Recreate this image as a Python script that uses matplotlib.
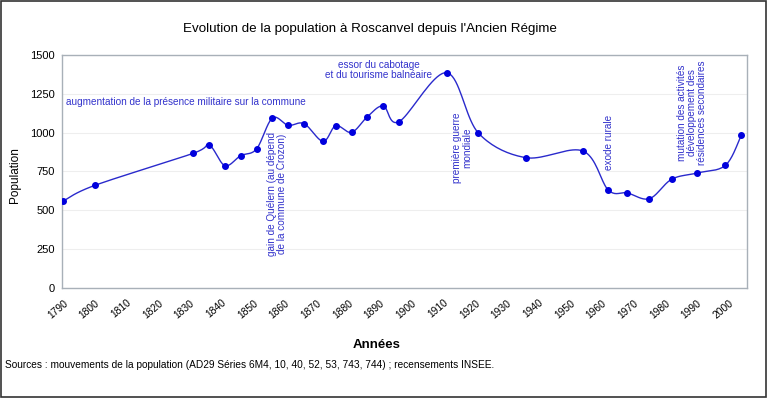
import numpy as np
import matplotlib
matplotlib.use('Agg')
import matplotlib.pyplot as plt

plt.rcParams['font.family'] = ['Liberation Sans', 'DejaVu Sans']

# données
annees = [1790, 1800, 1831, 1836, 1841, 1846, 1851, 1856, 1861, 1866, 1872, 1876,
          1881, 1886, 1891, 1896, 1911, 1921, 1936, 1954, 1962, 1968, 1975, 1982,
          1990, 1999, 2004]
population = [560, 661, 867, 921, 788, 852, 895, 1094, 1047, 1058, 944, 1045,
              1002, 1103, 1172, 1071, 1386, 998, 839, 882, 631, 612, 575, 700,
              740, 790, 985]
ticks_annees = list(range(1790, 2001, 10))
ticks_pop = [0, 250, 500, 750, 1000, 1250, 1500]

bleu_ligne = '#2A2ACC'
bleu_point = '#0000DD'
bleu_texte = '#3333CC'


def courbe_lissee(x, y, sx=3.169, sy=0.1553, n=20):
    """lissage type Excel (Catmull-Rom) calculé en pixels"""
    px = np.asarray(x, float) * sx
    py = np.asarray(y, float) * sy
    pts = np.column_stack([px, py])
    pts = np.vstack([pts[0], pts, pts[-1]])
    out = []
    for i in range(1, len(pts) - 2):
        p0, p1, p2, p3 = pts[i - 1], pts[i], pts[i + 1], pts[i + 2]
        c1 = p1 + (p2 - p0) / 6
        c2 = p2 - (p3 - p1) / 6
        t = np.linspace(0, 1, n)[:, None]
        seg = ((1 - t) ** 3 * p1 + 3 * (1 - t) ** 2 * t * c1
               + 3 * (1 - t) * t ** 2 * c2 + t ** 3 * p2)
        out.append(seg if i == 1 else seg[1:])
    out = np.vstack(out)
    return out[:, 0] / sx, out[:, 1] / sy


fig = plt.figure(figsize=(7.68, 3.98), dpi=100)
fig.patch.set_facecolor('white')
ax = fig.add_axes([0.0807, 0.2764, 0.8920, 0.5854])

xs, ys = courbe_lissee(annees, population)
ax.plot(xs, ys, color=bleu_ligne, linewidth=1.0, zorder=3)
ax.plot(annees, population, linestyle='none', marker='o', markersize=4,
        color=bleu_point, zorder=4)

ax.set_xlim(1789.6, 2005.8)
ax.set_ylim(0, 1500)
ax.set_xticks(ticks_annees)
ax.set_xticklabels([str(a) for a in ticks_annees], rotation=40, ha='right',
                   rotation_mode='anchor', fontsize=7.4)
ax.set_yticks(ticks_pop)
ax.set_yticklabels([str(v) for v in ticks_pop], fontsize=8)
ax.tick_params(axis='y', length=0, pad=5)
ax.tick_params(axis='x', length=0, pad=7)
ax.grid(axis='y', color='#EEEEEE', linewidth=0.8)
ax.set_axisbelow(True)
for s in ax.spines.values():
    s.set_color('#A8B0B8')
    s.set_linewidth(1.0)

fig.text(15 / 768, 0.56, 'Population', fontsize=8.5, rotation=90,
         ha='center', va='center')

# annotations
fs = 7.2
ax.text(1791, 1197, 'augmentation de la présence militaire sur la commune',
        color=bleu_texte, fontsize=fs, ha='left', va='center')
ax.text(1889.5, 1338, 'essor du cabotage\net du tourisme balnéaire',
        color=bleu_texte, fontsize=fs, ha='center', va='bottom',
        linespacing=1.0)
ax.text(1857.5, 605, 'gain de Quélern (au dépend\nde la commune de Crozon)',
        color=bleu_texte, fontsize=fs, ha='center', va='center', rotation=90,
        linespacing=1.0)
ax.text(1916, 900, 'première guerre\nmondiale',
        color=bleu_texte, fontsize=fs, ha='center', va='center', rotation=90,
        linespacing=1.0)
ax.text(1962.3, 937, 'exode rurale',
        color=bleu_texte, fontsize=fs, ha='center', va='center', rotation=90)
ax.text(1988.5, 1128, 'mutation des activités\ndéveloppement des\nrésidences secondaires',
        color=bleu_texte, fontsize=fs, ha='center', va='center', rotation=90,
        linespacing=1.0)

fig.text(370 / 768, 0.928, "Evolution de la population à Roscanvel depuis l'Ancien Régime",
         fontsize=9.6, ha='center', va='center')
fig.text(377 / 768, 0.133, 'Années', fontsize=9.5, fontweight='bold',
         ha='center', va='center')
fig.text(0.007, 0.083,
         'Sources : mouvements de la population (AD29 Séries 6M4, 10, 40, 52, 53, 743, 744) ; recensements INSEE.',
         fontsize=7.25, ha='left', va='center')

# cadre extérieur
fig.add_artist(plt.Rectangle((0.001, 0.002), 0.997, 0.995, transform=fig.transFigure,
                             fill=False, edgecolor='#333333', linewidth=1.2))

fig.savefig('out.png', dpi=100, facecolor='white')
